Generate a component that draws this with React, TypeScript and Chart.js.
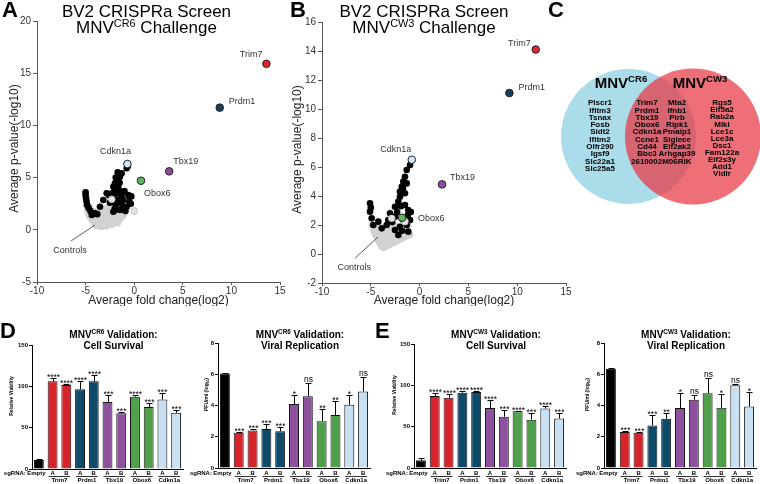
import React, { useEffect, useRef } from "react";
import { Chart, registerables } from "chart.js";

Chart.register(...registerables);

const FONT = "'Liberation Sans', Arial, Helvetica, sans-serif";
type Pt = [number, number];

// ---------------- Panels A / B : CRISPRa screen ----------------
const screenHits = ["Trim7", "Prdm1", "Tbx19", "Obox6", "Cdkn1a"];
const hitColors = ["#e3242b", "#173f5f", "#8e4c9e", "#5bb55a", "#d3e7f7"];
const cr6HitX = [13.6, 8.8, 3.6, 0.7, -0.7];
const cr6HitY = [15.9, 11.7, 5.6, 4.7, 6.3];
const cw3HitX = [11.9, 9.2, 2.3, -1.8, -0.8];
const cw3HitY = [14.1, 11.1, 4.8, 2.5, 6.5];

const cr6Black: Pt[] = [
  [-5.0, 3.6], [-5.0, 3.3], [-4.95, 3.0], [-4.9, 2.7], [-4.85, 2.4], [-4.7, 2.1], [-4.5, 1.8],
  [-4.37, 1.42], [-4.03, 1.58], [-3.8, 1.5], [-3.52, 2.21], [-3.18, 2.85], [-2.83, 3.5], [-2.6, 3.3],
  [-2.4, 3.2], [-2.5, 2.6], [-2.31, 3.5], [-2.15, 4.13], [-1.98, 4.45], [-1.8, 4.77], [-1.64, 4.29],
  [-1.46, 5.09], [-1.29, 5.41], [-1.7, 5.5], [-1.9, 5.0], [-1.5, 4.5], [-2.0, 3.9], [-1.6, 3.9],
  [-1.8, 3.5], [-1.29, 3.33], [-1.12, 2.85], [-0.61, 3.33], [-0.5, 2.69], [-0.77, 2.21], [-1.46, 1.9],
  [-2.15, 1.73], [-1.3, 2.6], [-1.9, 2.4], [-1.7, 2.9], [-1.0, 3.7], [-0.9, 1.8], [-1.2, 2.2],
  [-2.0, 2.0], [-0.5, 3.2], [-0.77, 5.89], [-0.65, 6.1], [-2.1, 3.0], [-1.4, 3.6], [-0.3, 3.2],
  [-0.35, 2.5], [-1.98, 1.9],
];
const cr6Light: Pt[] = [[-2.31, 2.92], [0.0, 1.8]];
const cr6Controls: Pt[] = [
  [-4.9, 2.3], [-4.8, 1.9], [-4.7, 1.5], [-4.5, 1.2], [-4.3, 0.9], [-4.1, 0.6], [-3.9, 0.4], [-3.6, 0.45],
  [-3.3, 0.5], [-3.0, 0.55], [-2.7, 0.6], [-2.4, 0.7], [-2.1, 0.75], [-1.8, 0.85], [-1.5, 1.0], [-1.2, 1.3],
  [-1.0, 1.6], [-0.9, 2.0], [-4.5, 1.7], [-4.2, 1.4], [-4.0, 1.1], [-3.7, 0.9], [-3.4, 0.9], [-3.1, 1.0],
  [-2.8, 1.0], [-2.5, 1.1], [-2.2, 1.2], [-1.9, 1.2], [-1.6, 1.4], [-1.3, 1.7], [-3.5, 1.3], [-3.2, 1.5],
  [-2.9, 1.6], [-2.6, 1.7], [-2.3, 1.6], [-2.0, 1.6], [-1.7, 1.8], [-1.4, 2.0], [-1.1, 2.1], [-3.0, 2.0],
  [-2.7, 2.1], [-2.4, 2.0], [-2.1, 2.2], [-1.8, 2.2], [-1.5, 2.4], [-1.2, 2.5], [-4.2, 1.8], [-3.9, 1.6],
  [-3.6, 1.4], [-4.6, 2.2], [-3.3, 1.9], [-3.4, 0.3], [-2.9, 0.35], [-2.3, 0.5], [-1.7, 0.65],
];

const cw3Black: Pt[] = [
  [-0.98, 6.14], [-1.32, 5.79], [-1.5, 5.33], [-1.67, 4.99], [-1.83, 4.64], [-2.01, 4.3], [-2.01, 3.95],
  [-2.18, 3.61], [-1.32, 4.87], [-1.5, 4.19], [-2.52, 3.26], [-1.16, 3.03], [-1.5, 3.38], [-3.03, 2.81],
  [-3.21, 2.34], [-3.37, 2.0], [-3.88, 1.77], [-4.23, 2.23], [-5.08, 3.5], [-5.08, 2.92], [-4.91, 2.46],
  [-4.74, 2.0], [-2.52, 2.57], [-2.01, 1.88], [-1.32, 2.0], [-1.16, 1.54], [-2.18, 1.31], [-2.52, 1.66],
  [-1.67, 2.34], [-0.98, 2.34], [-1.7, 4.5], [-1.9, 3.3], [-2.3, 2.9], [-1.2, 2.7], [-0.9, 2.9],
  [-1.8, 1.6], [-5.0, 3.2], [-2.8, 2.2],
];
const cw3Light: Pt[] = [[-2.86, 2.46], [-1.5, 2.23]];
const cw3Controls: Pt[] = [
  [-4.9, 2.0], [-4.7, 1.6], [-4.5, 1.3], [-4.3, 1.0], [-4.1, 0.8], [-3.9, 0.55], [-3.7, 0.45], [-3.4, 0.55],
  [-3.1, 0.65], [-2.8, 0.75], [-2.5, 0.85], [-2.2, 0.95], [-1.9, 1.05], [-1.6, 1.15], [-1.3, 1.25],
  [-1.0, 1.35], [-4.5, 1.8], [-4.2, 1.4], [-4.0, 1.1], [-3.7, 0.9], [-3.4, 1.0], [-3.1, 1.1], [-2.8, 1.2],
  [-2.5, 1.3], [-2.2, 1.35], [-1.9, 1.4], [-1.6, 1.5], [-1.3, 1.6], [-3.6, 1.4], [-3.3, 1.5], [-3.0, 1.6],
  [-2.7, 1.8], [-2.4, 1.9], [-2.1, 1.9], [-1.8, 1.8], [-1.5, 1.9], [-1.2, 2.0], [-4.0, 1.6], [-3.7, 1.8],
  [-4.3, 2.0],
];

const foldTicks = [-10, -5, 0, 5, 10, 15];
const cr6PTicks = [-5, 0, 5, 10, 15, 20];
const cw3PTicks = [-2, 0, 2, 4, 6, 8, 10, 12, 14, 16];

// ---------------- Panel C : Venn ----------------
const vennStrains = ["CR6", "CW3"];
const vennPos = [0, 1];
const cr6Only = ["Plscr1", "Ifitm3", "Tsnax", "Fosb", "Sidt2", "Ifitm2", "Olfr290", "Igsf9", "Slc22a1", "Slc25a5"];
const sharedA = ["Trim7", "Prdm1", "Tbx19", "Obox6", "Cdkn1a", "Ccne1", "Cd44", "Bbc3"];
const sharedB = ["Mta2", "Ifnb1", "Pirb", "Ripk1", "Pmaip1", "Siglece", "Eif2ak2", "Arhgap39"];
const sharedLast = "2610002M06RIK";
const cw3Only = ["Rgs5", "Eif5a2", "Rab2a", "Mlkl", "Lce1c", "Lce3a", "Dsc1", "Fam122a", "Eif2s3y", "Add1", "Vldlr"];

// ---------------- Panels D / E : validation ----------------
const sgGroups = ["Trim7", "Prdm1", "Tbx19", "Obox6", "Cdkn1a"];
const sgGuides = ["Empty", "A", "B", "A", "B", "A", "B", "A", "B", "A", "B"];
const groupColors = ["#d8232a", "#0e4a6a", "#8d519e", "#4f9f4b", "#c9dff2"];

const cr6Viability = [11, 106, 101.5, 96.5, 106, 81, 67.5, 87.5, 75, 84, 68];
const cr6ViabilitySem = [1.5, 4, 1, 9.5, 7.5, 9, 1, 2, 5, 7.5, 3.5];
const cr6ViabilitySig = ["", "****", "****", "****", "****", "***", "***", "****", "***", "***", "***"];

const cr6Pfu = [6.05, 2.25, 2.4, 2.5, 2.35, 4.1, 4.6, 3.0, 3.4, 4.05, 4.9];
const cr6PfuSem = [0.05, 0.07, 0.07, 0.3, 0.25, 0.55, 0.85, 0.8, 0.9, 0.6, 0.95];
const cr6PfuSig = ["", "***", "***", "***", "***", "*", "ns", "**", "**", "*", "ns"];

const cw3Viability = [9.5, 87, 85, 91, 92, 72.5, 62, 68.5, 58.5, 72, 60];
const cw3ViabilitySem = [3, 4, 4, 2, 1.5, 10, 8, 0.7, 7.5, 2.5, 6];
const cw3ViabilitySig = ["", "****", "****", "****", "****", "****", "***", "****", "***", "****", "***"];

const cw3Pfu = [6.35, 2.3, 2.25, 2.72, 3.15, 3.84, 4.37, 4.79, 3.85, 5.29, 3.94];
const cw3PfuSem = [0.05, 0.1, 0.05, 0.69, 0.37, 0.96, 0.28, 1.0, 0.9, 0.11, 0.93];
const cw3PfuSig = ["", "***", "***", "***", "**", "*", "ns", "ns", "*", "ns", "*"];

const viabilityTicks = [0, 50, 100, 150];
const pfuTicks = [0, 2, 4, 6, 8];

// ---------------- helpers ----------------
type Seg = { t: string; sup?: boolean; sub?: boolean };
function drawRich(
  ctx: CanvasRenderingContext2D,
  segs: Seg[],
  x: number,
  y: number,
  size: number,
  weight: string,
  align: "left" | "center" | "right"
) {
  const big = `${weight} ${size}px ${FONT}`;
  const small = `${weight} ${(size * 0.64).toFixed(1)}px ${FONT}`;
  const widths = segs.map((s) => {
    ctx.font = s.sup || s.sub ? small : big;
    return ctx.measureText(s.t).width;
  });
  const total = widths.reduce((a, b) => a + b, 0);
  let cx = align === "center" ? x - total / 2 : align === "right" ? x - total : x;
  ctx.textAlign = "left";
  segs.forEach((s, i) => {
    ctx.font = s.sup || s.sub ? small : big;
    const dy = s.sup ? -size * 0.38 : s.sub ? size * 0.22 : 0;
    ctx.fillText(s.t, cx, y + dy);
    cx += widths[i];
  });
}

function ChartCanvas({ left, top, width, height, make }: { left: number; top: number; width: number; height: number; make: () => any }) {
  const ref = useRef<HTMLCanvasElement>(null);
  useEffect(() => {
    const chart = new Chart(ref.current as HTMLCanvasElement, make());
    return () => chart.destroy();
  }, []);
  return (
    <canvas
      ref={ref}
      width={width}
      height={height}
      style={{ position: "absolute", left, top, width, height }}
    />
  );
}

// ---------------- scatter (A/B) ----------------
interface ScatterSpec {
  w: number;
  h: number;
  area: { l: number; r: number; t: number; b: number };
  xTicks: number[];
  yTicks: number[];
  controls: Pt[];
  black: Pt[];
  light: Pt[];
  hitX: number[];
  hitY: number[];
  labelOff: [number, number, CanvasTextAlign][];
  ctrlLine: [Pt, Pt];
  ctrlDy: number;
  letter: string;
  letterX: number;
  titleX: number;
  strain: string;
  yTitleX: number;
}

function scatterConfig(s: ScatterSpec): any {
  const toXY = (p: Pt[]) => p.map(([x, y]) => ({ x, y }));
  const axis = (ticks: number[], tickLen: number, pad: number) => ({
    type: "linear",
    min: ticks[0],
    max: ticks[ticks.length - 1],
    ticks: { stepSize: ticks[1] - ticks[0], color: "#333", font: { size: 10, family: FONT }, padding: pad },
    grid: { display: true, drawOnChartArea: false, drawTicks: true, tickLength: tickLen, color: "#555", lineWidth: 1 },
    border: { display: true, color: "#555", width: 1 },
  });
  return {
    type: "scatter",
    data: {
      datasets: [
        {
          data: s.hitX.map((x, i) => ({ x, y: s.hitY[i] })),
          pointBackgroundColor: hitColors,
          pointBorderColor: "#222",
          pointBorderWidth: 1,
          pointRadius: 3.8,
          order: 0,
        },
        {
          data: toXY(s.light),
          pointBackgroundColor: "#e4e4e4",
          pointBorderColor: "#b0b0b0",
          pointBorderWidth: 0.7,
          pointRadius: 3.4,
          order: 1,
        },
        { data: toXY(s.black), pointBackgroundColor: "#000", pointBorderWidth: 0, pointRadius: 3.3, order: 2 },
        { data: toXY(s.controls), pointBackgroundColor: "#d2d2d2", pointBorderWidth: 0, pointRadius: 3.6, order: 3 },
      ],
    },
    options: {
      responsive: false,
      animation: false,
      devicePixelRatio: 1,
      events: [],
      layout: { autoPadding: false, padding: { left: 0, top: s.area.t, right: s.w - s.area.r, bottom: s.h - s.area.b - 18 } },
      plugins: { legend: { display: false }, tooltip: { enabled: false } },
      scales: {
        x: {
          ...axis(s.xTicks, 3, 0),
          afterFit: (sc: any) => {
            sc.height = 18;
            sc.paddingLeft = 0;
            sc.paddingRight = 0;
          },
        },
        y: {
          ...axis(s.yTicks, 4, 2),
          afterFit: (sc: any) => {
            sc.width = s.area.l;
            sc.paddingTop = 0;
            sc.paddingBottom = 0;
          },
        },
      },
    },
    plugins: [
      {
        id: "screenText",
        afterDraw(chart: any) {
          const ctx: CanvasRenderingContext2D = chart.ctx;
          const xs = chart.scales.x;
          const ys = chart.scales.y;
          ctx.save();
          ctx.fillStyle = "#000";
          ctx.textBaseline = "alphabetic";
          ctx.textAlign = "left";
          ctx.font = `bold 22px ${FONT}`;
          ctx.fillText(s.letter, s.letterX, 17);
          ctx.font = `17px ${FONT}`;
          ctx.textAlign = "center";
          ctx.fillText("BV2 CRISPRa Screen", s.titleX, 17);
          drawRich(ctx, [{ t: "MNV" }, { t: s.strain, sup: true }, { t: " Challenge" }], s.titleX, 33, 17, "normal", "center");

          ctx.fillStyle = "#222";
          ctx.font = `12px ${FONT}`;
          ctx.textAlign = "center";
          ctx.fillText("Average fold change(log2)", (xs.left + xs.right) / 2, 304);
          ctx.save();
          ctx.translate(s.yTitleX, (ys.top + ys.bottom) / 2 - 3);
          ctx.rotate(-Math.PI / 2);
          ctx.textBaseline = "middle";
          ctx.fillText("Average p-value(-log10)", 0, 0);
          ctx.restore();

          ctx.fillStyle = "#333";
          ctx.font = `9px ${FONT}`;
          ctx.textBaseline = "middle";
          screenHits.forEach((name, i) => {
            const px = xs.getPixelForValue(s.hitX[i]);
            const py = ys.getPixelForValue(s.hitY[i]);
            const [dx, dy, al] = s.labelOff[i];
            ctx.textAlign = al;
            ctx.fillText(name, px + dx, py + dy);
          });

          const [p0, p1] = s.ctrlLine;
          const x0 = xs.getPixelForValue(p0[0]);
          const y0 = ys.getPixelForValue(p0[1]);
          const x1 = xs.getPixelForValue(p1[0]);
          const y1 = ys.getPixelForValue(p1[1]);
          ctx.strokeStyle = "#333";
          ctx.lineWidth = 0.8;
          ctx.beginPath();
          ctx.moveTo(x0, y0);
          ctx.lineTo(x1, y1);
          ctx.stroke();
          ctx.textAlign = "center";
          ctx.fillText("Controls", x0 - 1, y0 + s.ctrlDy);
          ctx.restore();
        },
      },
    ],
  };
}

// ---------------- Venn (C) ----------------
function vennConfig(): any {
  const W = 220;
  const H = 300;
  const unit = 64.5;
  const cx0 = 88.5;
  const cy = 136.5;
  return {
    type: "bubble",
    data: {
      datasets: [
        { data: [{ x: vennPos[0], y: 0, r: 67.5 }], backgroundColor: "#aadcea", borderWidth: 0, order: 1, clip: false },
        { data: [{ x: vennPos[1], y: 0, r: 68 }], backgroundColor: "rgba(232,55,66,0.72)", borderWidth: 0, order: 0, clip: false },
      ],
    },
    options: {
      responsive: false,
      animation: false,
      devicePixelRatio: 1,
      events: [],
      layout: { autoPadding: false, padding: 0 },
      plugins: { legend: { display: false }, tooltip: { enabled: false } },
      scales: {
        x: { type: "linear", display: false, min: -cx0 / unit, max: (W - cx0) / unit },
        y: { type: "linear", display: false, min: -(H - cy) / 100, max: cy / 100 },
      },
    },
    plugins: [
      {
        id: "vennText",
        afterDraw(chart: any) {
          const ctx: CanvasRenderingContext2D = chart.ctx;
          const xs = chart.scales.x;
          const ys = chart.scales.y;
          const bx = xs.getPixelForValue(vennPos[0]);
          const rx = xs.getPixelForValue(vennPos[1]);
          const c = ys.getPixelForValue(0);
          ctx.save();
          ctx.fillStyle = "#000";
          ctx.textBaseline = "alphabetic";
          ctx.textAlign = "left";
          ctx.font = `bold 22px ${FONT}`;
          ctx.fillText("C", 8, 17);
          drawRich(ctx, [{ t: "MNV" }, { t: vennStrains[0], sup: true }], bx - 7.5, c - 48.5, 15, "bold", "center");
          drawRich(ctx, [{ t: "MNV" }, { t: vennStrains[1], sup: true }], rx + 7, c - 48.5, 15, "bold", "center");
          ctx.font = `bold 8px ${FONT}`;
          ctx.textAlign = "center";
          ctx.textBaseline = "middle";
          const step = 7.3;
          const y0 = c - 33.5;
          cr6Only.forEach((g, i) => ctx.fillText(g, bx - 28.5, y0 + i * step));
          sharedA.forEach((g, i) => ctx.fillText(g, bx + 18.5, y0 + i * step));
          sharedB.forEach((g, i) => ctx.fillText(g, rx - 16, y0 + i * step));
          ctx.fillText(sharedLast, (bx + rx) / 2 + 0.5, y0 + sharedA.length * step);
          cw3Only.forEach((g, i) => ctx.fillText(g, rx + 29, y0 + i * 7.1));
          ctx.restore();
        },
      },
    ],
  };
}

// ---------------- bars (D/E) ----------------
interface BarSpec {
  w: number;
  h: number;
  area: { l: number; r: number; t: number; b: number };
  vals: number[];
  sem: number[];
  sig: string[];
  ticks: number[];
  strain: string;
  kind: "survival" | "viral";
  letter?: string;
  letterX?: number;
  yTitleX: number;
}

function barConfig(s: BarSpec): any {
  const colors = sgGuides.map((_, i) => (i === 0 ? "#000000" : groupColors[(i - 1) >> 1]));
  const labels = sgGuides.map((g, i) => (i === 0 ? g : `${sgGroups[(i - 1) >> 1]} ${g}`));
  return {
    type: "bar",
    data: {
      labels,
      datasets: [
        {
          data: s.vals,
          backgroundColor: colors,
          borderColor: "#111",
          borderWidth: 1,
          categoryPercentage: 1,
          barPercentage: 0.72,
        },
      ],
    },
    options: {
      responsive: false,
      animation: false,
      devicePixelRatio: 1,
      events: [],
      layout: { autoPadding: false, padding: { left: 0, top: s.area.t, right: s.w - s.area.r, bottom: s.h - s.area.b } },
      plugins: { legend: { display: false }, tooltip: { enabled: false } },
      scales: {
        x: {
          type: "category",
          offset: true,
          ticks: { display: false },
          grid: { display: false },
          border: { display: true, color: "#000", width: 1 },
          afterFit: (sc: any) => {
            sc.height = 0;
            sc.paddingLeft = 0;
            sc.paddingRight = 0;
          },
        },
        y: {
          type: "linear",
          min: s.ticks[0],
          max: s.ticks[s.ticks.length - 1],
          ticks: { stepSize: s.ticks[1] - s.ticks[0], color: "#000", font: { size: 6, weight: "bold", family: FONT }, padding: 1 },
          grid: { display: true, drawOnChartArea: false, drawTicks: true, tickLength: 3, color: "#000", lineWidth: 1 },
          border: { display: true, color: "#000", width: 1 },
          afterFit: (sc: any) => {
            sc.width = s.area.l;
            sc.paddingTop = 0;
            sc.paddingBottom = 0;
          },
        },
      },
    },
    plugins: [
      {
        id: "barExtras",
        afterDatasetsDraw(chart: any) {
          const ctx: CanvasRenderingContext2D = chart.ctx;
          const xs = chart.scales.x;
          const ys = chart.scales.y;
          ctx.save();
          ctx.strokeStyle = "#000";
          ctx.fillStyle = "#000";
          ctx.lineWidth = 1;
          s.vals.forEach((v, i) => {
            const x = Math.round(xs.getPixelForValue(i)) + 0.5;
            const y0 = ys.getPixelForValue(v);
            const y1 = Math.round(ys.getPixelForValue(v + s.sem[i])) + 0.5;
            ctx.beginPath();
            ctx.moveTo(x, y0);
            ctx.lineTo(x, y1);
            ctx.moveTo(x - 3, y1);
            ctx.lineTo(x + 3, y1);
            ctx.stroke();
            if (s.sig[i]) {
              ctx.font = `8.5px ${FONT}`;
              ctx.textAlign = "center";
              ctx.textBaseline = "alphabetic";
              ctx.fillText(s.sig[i], x, s.sig[i] === "ns" ? y1 - 1.5 : y1 + 1.5);
            }
          });
          ctx.restore();
        },
        afterDraw(chart: any) {
          const ctx: CanvasRenderingContext2D = chart.ctx;
          const xs = chart.scales.x;
          const ys = chart.scales.y;
          ctx.save();
          ctx.fillStyle = "#000";
          ctx.strokeStyle = "#000";
          if (s.letter) {
            ctx.font = `bold 22px ${FONT}`;
            ctx.textAlign = "left";
            ctx.textBaseline = "alphabetic";
            ctx.fillText(s.letter, s.letterX || 0, 16);
          }
          const tx = (xs.left + xs.right) / 2 + 6;
          ctx.textBaseline = "alphabetic";
          drawRich(ctx, [{ t: "MNV" }, { t: s.strain, sup: true }, { t: " Validation:" }], tx, 15.5, 10, "bold", "center");
          ctx.font = `bold 10px ${FONT}`;
          ctx.textAlign = "center";
          ctx.fillText(s.kind === "survival" ? "Cell Survival" : "Viral Replication", tx, 27);

          // y title
          ctx.save();
          ctx.translate(s.yTitleX, (ys.top + ys.bottom) / 2 - 11);
          ctx.rotate(-Math.PI / 2);
          ctx.textBaseline = "middle";
          if (s.kind === "survival") {
            ctx.font = `bold 5px ${FONT}`;
            ctx.textAlign = "center";
            ctx.fillText("Relative Viability", 0, 0);
          } else {
            drawRich(ctx, [{ t: "PFU/ml (log" }, { t: "10", sub: true }, { t: ")" }], 0, 0, 5, "bold", "center");
          }
          ctx.restore();

          // x labels
          const yRow = 151;
          ctx.font = `bold 6px ${FONT}`;
          ctx.textBaseline = "middle";
          ctx.textAlign = "center";
          const centers = sgGuides.map((_, i) => xs.getPixelForValue(i));
          sgGuides.forEach((g, i) => ctx.fillText(g, centers[i] - (i === 0 ? 2.5 : 0), yRow));
          ctx.textAlign = "right";
          ctx.fillText("sgRNA:", centers[0] - 13, yRow);
          ctx.textAlign = "center";
          ctx.lineWidth = 0.8;
          sgGroups.forEach((g, k) => {
            const a = centers[1 + 2 * k];
            const b = centers[2 + 2 * k];
            ctx.beginPath();
            ctx.moveTo(a - 4, 154.5);
            ctx.lineTo(b + 4, 154.5);
            ctx.stroke();
            ctx.fillText(g, (a + b) / 2, 158.5);
          });
          ctx.restore();
        },
      },
    ],
  };
}

export default function App() {
  return (
    <div
      style={{
        position: "fixed",
        left: 0,
        top: 0,
        width: 760,
        height: 484,
        background: "#fff",
        overflow: "hidden",
      }}
    >
      <ChartCanvas
        left={0}
        top={0}
        width={292}
        height={306}
        make={() =>
          scatterConfig({
            w: 292,
            h: 306,
            area: { l: 37, r: 280, t: 21, b: 282 },
            xTicks: foldTicks,
            yTicks: cr6PTicks,
            controls: cr6Controls,
            black: cr6Black,
            light: cr6Light,
            hitX: cr6HitX,
            hitY: cr6HitY,
            labelOff: [
              [-4, -9, "right"],
              [9, -6, "left"],
              [4, -10, "left"],
              [3, 13, "left"],
              [-12, -13, "center"],
            ],
            ctrlLine: [[-6.5, -1.07], [-4.03, 0.46]],
            ctrlDy: 10,
            letter: "A",
            letterX: 2,
            titleX: 146.5,
            strain: "CR6",
            yTitleX: 15,
          })
        }
      />
      <ChartCanvas
        left={286}
        top={0}
        width={288}
        height={306}
        make={() =>
          scatterConfig({
            w: 288,
            h: 306,
            area: { l: 36, r: 280, t: 22, b: 283 },
            xTicks: foldTicks,
            yTicks: cw3PTicks,
            controls: cw3Controls,
            black: cw3Black,
            light: cw3Light,
            hitX: cw3HitX,
            hitY: cw3HitY,
            labelOff: [
              [-5, -6, "right"],
              [9, -6, "left"],
              [8, -7, "left"],
              [16, 1, "left"],
              [-16, -10, "center"],
            ],
            ctrlLine: [[-6.6, -0.28], [-4.26, 1.17]],
            ctrlDy: 9,
            letter: "B",
            letterX: 4,
            titleX: 138,
            strain: "CW3",
            yTitleX: 12,
          })
        }
      />
      <ChartCanvas left={540} top={0} width={220} height={300} make={vennConfig} />
      <ChartCanvas
        left={0}
        top={322}
        width={188}
        height={162}
        make={() =>
          barConfig({
            w: 188,
            h: 162,
            area: { l: 32, r: 183, t: 23, b: 147 },
            vals: cr6Viability,
            sem: cr6ViabilitySem,
            sig: cr6ViabilitySig,
            ticks: viabilityTicks,
            strain: "CR6",
            kind: "survival",
            letter: "D",
            letterX: 0,
            yTitleX: 12,
          })
        }
      />
      <ChartCanvas
        left={188}
        top={322}
        width={190}
        height={162}
        make={() =>
          barConfig({
            w: 190,
            h: 162,
            area: { l: 30, r: 182, t: 21, b: 146 },
            vals: cr6Pfu,
            sem: cr6PfuSem,
            sig: cr6PfuSig,
            ticks: pfuTicks,
            strain: "CR6",
            kind: "viral",
            yTitleX: 19,
          })
        }
      />
      <ChartCanvas
        left={372}
        top={322}
        width={196}
        height={162}
        make={() =>
          barConfig({
            w: 196,
            h: 162,
            area: { l: 42, r: 194, t: 22, b: 146 },
            vals: cw3Viability,
            sem: cw3ViabilitySem,
            sig: cw3ViabilitySig,
            ticks: viabilityTicks,
            strain: "CW3",
            kind: "survival",
            letter: "E",
            letterX: 3,
            yTitleX: 23,
          })
        }
      />
      <ChartCanvas
        left={568}
        top={322}
        width={192}
        height={162}
        make={() =>
          barConfig({
            w: 192,
            h: 162,
            area: { l: 36, r: 188, t: 21, b: 146 },
            vals: cw3Pfu,
            sem: cw3PfuSem,
            sig: cw3PfuSig,
            ticks: pfuTicks,
            strain: "CW3",
            kind: "viral",
            yTitleX: 20,
          })
        }
      />
    </div>
  );
}
